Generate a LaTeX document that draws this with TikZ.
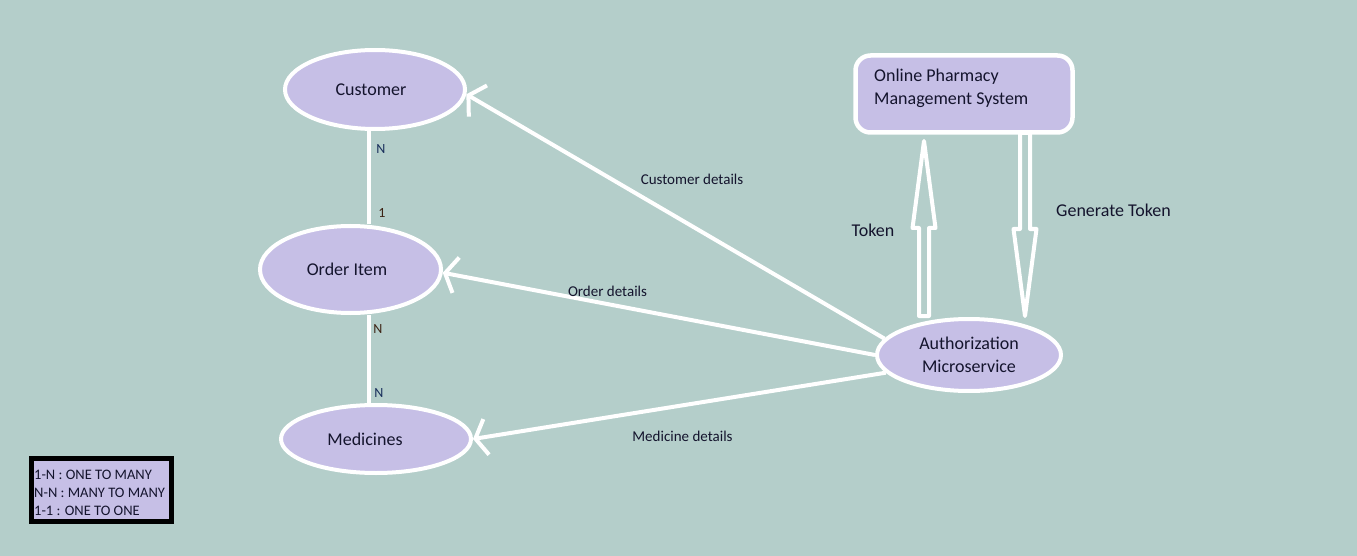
\documentclass[tikz,border=0pt]{standalone}
\usepackage{fontspec}
\setmainfont{Carlito}
\usetikzlibrary{shapes.geometric,arrows.meta}
\definecolor{bg}{RGB}{180,206,202}
\definecolor{lav}{RGB}{198,191,230}
\definecolor{ink}{RGB}{20,20,45}
\definecolor{inkblue}{RGB}{23,45,90}
\definecolor{inkbrown}{RGB}{60,35,20}
\begin{document}
\begin{tikzpicture}[x=1pt,y=-1pt,
  ent/.style={ellipse, draw=white, line width=4pt, fill=lav, inner sep=0pt,
    font=\fontsize{18}{23}\selectfont, text=ink},
  conn/.style={draw=white, line width=4pt},
  darr/.style={conn, -{Straight Barb[length=11pt,width=36pt]}},
  elab/.style={font=\fontsize{15}{18}\selectfont, text=ink, inner sep=0pt},
  blab/.style={font=\fontsize{18}{23}\selectfont, text=ink, inner sep=0pt},
  card/.style={font=\fontsize{14}{16}\selectfont, inner sep=0pt},
  blockarr/.style={draw=white, line width=4pt, fill=bg, line join=round}
]
\useasboundingbox (0,0) rectangle (1357,556);
\fill[bg] (0,0) rectangle (1357,556);

% block arrows
\draw[blockarr] (919,316) -- (919,228) -- (912.5,228) -- (924,141) -- (935.5,228) -- (929,228) -- (929,316) -- cycle;
\draw[blockarr] (1020,133) -- (1020,229) -- (1013.5,229) -- (1025,316) -- (1036.5,229) -- (1030,229) -- (1030,133) -- cycle;

% entities
\node[ent, minimum width=180pt, minimum height=79pt] (cust) at (375,89.5) {\hspace*{-8pt}Customer};
\node[ent, minimum width=181pt, minimum height=87pt] (order) at (350.5,269.5) {\hspace*{-7pt}Order Item};
\node[ent, minimum width=190pt, minimum height=68pt] (med) at (376,439) {\hspace*{-22pt}Medicines};
\node[ent, minimum width=184pt, minimum height=72pt, align=center] (auth) at (969,355) {Authorization\\Microservice};

\node[draw=white, line width=4.5pt, fill=lav, rounded corners=15pt,
  minimum width=217pt, minimum height=77pt, inner sep=0pt] (oms) at (964,94) {};
\node[blab, anchor=west, align=left] (omst) at (874,88.5) {Online Pharmacy\\Management System};

% relations
\coordinate (lx) at (369,0);
\draw[conn] (cust.south -| lx) -- (order.north -| lx);
\draw[conn] (order.south -| lx) -- (med.north -| lx);

\draw[darr] (auth.169) -- (cust.-3);
\draw[darr] (auth.west) -- (order.-2);
\draw[darr] (auth.192) -- (med.east);

% labels
\node[elab] (lcd) at (692,179) {Customer details};
\node[elab] (lod) at (607.5,291) {Order details};
\node[elab] (lmd) at (682.5,436) {Medicine details};
\node[blab] (ltok) at (873,230) {Token};
\node[blab] (lgen) at (1113.5,210) {Generate Token};

\node[card, text=inkblue] (c1) at (381,149) {N};
\node[card, text=inkbrown] (c2) at (382,213) {1};
\node[card, text=inkbrown] (c3) at (378,329) {N};
\node[card, text=inkblue] (c4) at (379,393) {N};

% legend
\node[draw=black, line width=5pt, fill=lav, minimum width=140pt, minimum height=63pt, inner sep=0pt] (leg) at (101.5,490) {};
\node[anchor=west, align=left, font=\fontsize{14.5}{18}\selectfont, text=ink, inner sep=0pt] (legt) at (34,493)
  {1-N : ONE TO MANY\\N-N : MANY TO MANY\\1-1 : ONE TO ONE};
\end{tikzpicture}
\end{document}
